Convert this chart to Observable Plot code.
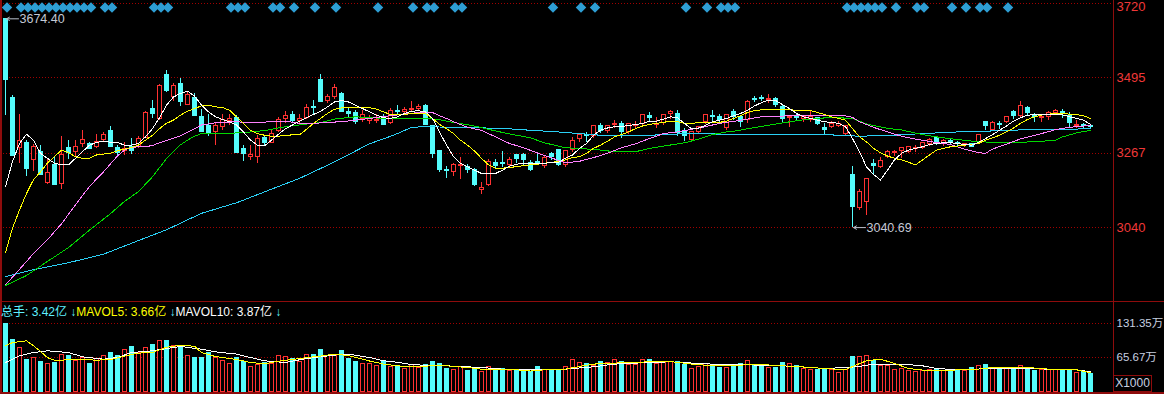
<!DOCTYPE html>
<html><head><meta charset="utf-8">
<script src="https://cdn.jsdelivr.net/npm/d3@7"></script>
<script src="https://cdn.jsdelivr.net/npm/@observablehq/plot@0.6"></script>
<style>
html,body{margin:0;padding:0;background:#000;}
#wrap{position:relative;width:1164px;height:394px;background:#000;overflow:hidden;}
#price{position:absolute;left:0;top:0;}
#vol{position:absolute;left:0;top:301px;}
.ln{position:absolute;background:#8e0c0c;}
#hdr{position:absolute;left:1px;top:304px;font-size:12px;font-family:"Liberation Sans","Noto Sans CJK SC",sans-serif;line-height:16px;white-space:nowrap;}
#x1000{position:absolute;left:1113px;top:375px;width:37px;height:15px;border:1px solid #8e0c0c;color:#c8d0e0;font-size:12px;font-family:"Liberation Sans",sans-serif;line-height:15px;text-align:center;}
</style>
</head><body>
<div id="wrap">
  <div id="price"></div>
  <div id="vol"></div>
  <div class="ln" style="left:0;top:0;width:2px;height:394px"></div>
  <div class="ln" style="left:1113px;top:0;width:1px;height:394px"></div>
  <div class="ln" style="left:0;top:301px;width:1164px;height:1px"></div>
  <div class="ln" style="left:0;top:392px;width:1164px;height:2px"></div>
  <div id="hdr"></div>
  <div id="x1000">X1000</div>
</div>
<script>
// ---------- data ----------
const open = [3674.4,3434,3283,3296,3246,3269,3177,3230,3172,3283,3269,3293,3294,3286,3306,3333,3282,3272,3285,3285,
3313,3402,3370,3505,3437,3476,3413,3434,3376,3348,3330,3345,3364,3374,3280,3255,3256,3312,3298,3333,
3370,3382,3363,3373,3406,3490,3424,3436,3447,3393,3388,3370,3364,3364,3372,3358,3396,3392,3397,3400,
3410,3348,3272,3216,3210,3228,3226,3215,3155,3170,3238,3238,3232,3262,3260,3238,3241,3227,3264,3276,
3232,3275,3310,3322,3318,3349,3334,3352,3355,3330,3349,3356,3378,3352,3358,3386,3385,3330,3308,3331,
3360,3380,3375,3342,3393,3377,3366,3432,3433,3427,3430,3407,3372,3377,3370,3366,3372,3342,3346,3350,
3326,3200,3100,3118,3233,3225,3256,3266,3273,3271,3278,3281,3293,3313,3298,3304,3297,3290,3293,3299,
3362,3336,3356,3360,3392,3380,3404,3380,3372,3377,3387,3391,3380,3349,3352,3349];
const high = [3674.4,3442,3385,3306,3293,3291,3246,3252,3318,3306,3306,3336,3298,3324,3330,3347,3290,3300,3312,3318,
3392,3427,3476,3516,3478,3493,3450,3447,3400,3385,3357,3384,3385,3380,3291,3291,3320,3320,3336,3375,
3392,3392,3385,3415,3427,3505,3445,3474,3450,3402,3395,3395,3382,3385,3385,3402,3410,3405,3424,3413,
3415,3351,3276,3225,3234,3253,3232,3220,3178,3246,3248,3271,3254,3264,3265,3244,3268,3260,3270,3278,
3275,3315,3326,3330,3350,3356,3352,3366,3362,3356,3362,3385,3390,3376,3384,3395,3395,3340,3331,3347,
3385,3395,3383,3385,3400,3382,3425,3440,3442,3444,3435,3410,3380,3384,3378,3392,3376,3357,3362,3362,
3352,3226,3155,3190,3246,3254,3275,3275,3282,3287,3290,3298,3310,3317,3308,3310,3302,3297,3296,3322,
3364,3362,3362,3379,3395,3422,3408,3387,3378,3392,3398,3398,3390,3365,3356,3352];
const low = [3382,3256,3234,3195,3210,3198,3172,3168,3155,3246,3254,3283,3278,3281,3298,3285,3256,3258,3262,3280,
3310,3372,3365,3450,3422,3407,3410,3378,3328,3316,3291,3336,3350,3265,3240,3245,3236,3290,3295,3328,
3357,3357,3355,3368,3385,3420,3418,3430,3390,3375,3355,3360,3354,3358,3350,3355,3385,3388,3390,3395,
3350,3250,3207,3190,3195,3186,3205,3166,3140,3164,3220,3222,3225,3235,3230,3210,3230,3220,3245,3226,
3222,3270,3300,3300,3310,3325,3325,3342,3310,3322,3340,3348,3360,3342,3352,3368,3318,3303,3300,3326,
3355,3362,3355,3335,3365,3345,3358,3420,3422,3417,3405,3360,3345,3365,3360,3360,3352,3320,3340,3343,
3318,3040.69,3092,3076,3198,3220,3250,3255,3250,3265,3268,3278,3288,3290,3286,3294,3286,3283,3283,3292,
3334,3332,3338,3356,3370,3372,3378,3360,3360,3366,3380,3372,3346,3340,3340,3340];
const close = [3489.78,3259,3302,3218,3285,3201,3206,3169,3262,3268,3286,3306,3280,3300,3322,3286,3266,3280,3272,3310,
3387,3384,3471,3455,3470,3422,3444,3380,3331,3324,3349,3368,3370,3267,3264,3260,3310,3296,3326,3366,
3379,3365,3369,3404,3403,3423,3436,3465,3392,3386,3361,3382,3370,3368,3352,3394,3393,3398,3400,3407,
3352,3263,3214,3212,3230,3231,3214,3170,3162,3241,3228,3235,3245,3249,3247,3214,3236,3253,3256,3230,
3272,3304,3322,3318,3348,3334,3349,3356,3330,3354,3353,3382,3374,3356,3382,3392,3328,3319,3330,3345,
3383,3376,3366,3382,3376,3362,3422,3428,3430,3431,3412,3370,3376,3374,3375,3376,3356,3338,3356,3356,
3350,3104,3150,3188,3229,3243,3270,3270,3281,3286,3282,3296,3306,3301,3302,3300,3293,3294,3286,3321,
3350,3357,3352,3377,3380,3410,3387,3376,3375,3390,3395,3388,3357,3353,3349,3345];
// volume, in 万 (x1000)
const volume = [131.35,100.4,84.4,61.8,65.1,57.9,53.5,54.7,70.9,69.5,59.9,66.2,53.5,63.1,68.2,74.7,68.2,81.1,86.9,75.9,
84.4,90.2,98.5,98.5,87.5,85.5,69.5,65.1,65.1,74.7,65.1,59.9,53.5,66.2,56.6,48.3,52.1,55.4,53.5,69.5,
67.6,63.1,56.6,71.4,70.9,81.1,69.5,69.5,79.2,64.3,57.9,53.5,53.5,50.2,57.9,48.3,48.3,44.4,51.6,46.9,
51.6,57.9,53.5,45.0,42.5,48.3,40.6,42.5,38.6,48.3,40.6,43.8,40.6,42.5,40.6,38.6,48.3,42.5,42.5,42.5,
48.3,61.8,55.4,53.5,48.9,57.9,55.4,61.8,56.6,52.1,52.1,61.8,61.8,53.5,57.9,58.4,56.6,52.1,45.0,48.3,
53.5,50.2,46.9,46.9,50.2,53.5,59.9,52.1,48.9,46.9,46.9,54.7,53.5,50.2,45.0,42.5,42.5,45.0,42.5,36.1,
42.5,67.6,67.6,69.5,59.9,50.2,48.9,42.5,45.0,40.6,38.6,40.6,42.5,43.8,40.6,40.6,40.6,40.6,46.9,50.2,
52.1,45.0,45.0,45.0,45.0,48.9,45.0,40.6,42.5,42.5,42.5,40.6,40.6,36.1,37.3,34.2];

const ma5 = [3165,3241,3296,3324,3306,3266,3251,3236,3231,3231,3251,3271,3291,3299,3303,3300,3299,3291,3291,3296,
3316,3341,3374,3412,3437,3448,3455,3440,3412,3392,3377,3369,3362,3352,3331,3306,3291,3289,3306,3324,
3341,3352,3364,3374,3384,3394,3407,3422,3427,3422,3412,3402,3392,3382,3374,3372,3377,3387,3394,3395,
3392,3372,3331,3291,3256,3236,3225,3215,3205,3205,3205,3215,3227,3233,3236,3236,3236,3236,3238,3239,
3251,3261,3281,3296,3321,3336,3343,3347,3347,3351,3353,3357,3364,3364,3370,3377,3374,3357,3341,3342,
3351,3362,3367,3372,3380,3387,3397,3410,3420,3427,3427,3414,3402,3387,3377,3372,3367,3362,3360,3357,
3347,3311,3271,3225,3202,3185,3215,3246,3266,3276,3281,3286,3293,3296,3298,3298,3296,3293,3291,3299,
3311,3323,3336,3349,3364,3374,3382,3383,3383,3383,3383,3383,3377,3372,3367,3354];
const ma10 = [2965,3039,3094,3144,3186,3210,3237,3256,3276,3268,3256,3251,3251,3261,3264,3266,3274,3279,3284,3291,
3306,3321,3341,3357,3367,3382,3394,3402,3410,3412,3407,3405,3397,3377,3357,3336,3326,3321,3318,3318,
3321,3322,3322,3339,3357,3372,3387,3400,3404,3405,3405,3404,3405,3400,3392,3384,3384,3384,3387,3387,
3387,3372,3354,3341,3326,3306,3291,3273,3251,3231,3221,3221,3224,3225,3229,3231,3233,3236,3239,3241,
3246,3253,3256,3266,3281,3291,3303,3316,3323,3331,3341,3349,3354,3357,3360,3364,3362,3357,3357,3359,
3360,3360,3360,3364,3372,3380,3390,3396,3398,3398,3398,3398,3398,3397,3397,3396,3390,3384,3377,3372,
3367,3341,3316,3301,3281,3268,3258,3251,3246,3239,3231,3246,3261,3276,3281,3286,3288,3291,3293,3296,
3306,3313,3321,3331,3343,3357,3369,3377,3382,3385,3387,3387,3385,3384,3380,3372];
const ma20 = [[0,2867],[2,2914],[4,2962],[6,3004],[8,3052],[10,3110],[11,3138],[12,3165],[13,3188],[14,3210],[15,3234],
[16,3258],[17,3276],[18,3284],[19,3286],[20,3286],[21,3290],[22,3298],[23,3305],[24,3312],[25,3319],[26,3330],[27,3341],
[28,3352],[30,3359],[33,3362],[35,3359],[38,3362],[40,3364],[42,3357],[44,3357],[46,3360],[48,3362],[50,3367],[52,3372],
[54,3378],[57,3385],[59,3390],[61,3390],[62,3380],[63,3372],[64,3362],[66,3345],[68,3336],[70,3316],[72,3296],[74,3283],
[76,3267],[78,3252],[80,3237],[82,3242],[84,3253],[86,3266],[88,3283],[90,3295],[92,3311],[94,3326],[96,3331],[98,3339],
[100,3347],[102,3357],[104,3363],[106,3370],[108,3377],[112,3380],[116,3381],[120,3380],[121,3375],[122,3362],[124,3345],
[126,3331],[128,3318],[130,3309],[133,3299],[135,3293],[137,3279],[139,3268],[140,3266],[141,3279],[143,3294],[145,3310],
[148,3326],[150,3338],[152,3345],[155,3351]];
const ma30 = [[0,2865],[3,2895],[6,2938],[9,2980],[12,3033],[15,3083],[17,3120],[19,3150],[21,3195],[23,3250],[24,3272],
[25,3292],[26,3306],[27,3318],[28,3326],[31,3326],[34,3329],[37,3335],[40,3347],[43,3355],[45,3359],[47,3370],[50,3377],
[52,3374],[55,3372],[58,3372],[60,3373],[62,3368],[64,3360],[67,3349],[70,3334],[72,3325],[75,3313],[77,3298],[80,3283],
[82,3281],[85,3276],[87,3271],[90,3271],[92,3281],[94,3288],[97,3298],[99,3309],[101,3323],[103,3331],[104,3333],[108,3348],
[113,3365],[116,3373],[119,3374],[121,3372],[123,3355],[126,3342],[128,3337],[131,3323],[133,3316],[136,3308],[139,3301],
[143,3299],[147,3301],[150,3306],[151,3316],[153,3328],[155,3336]];
const ma60 = [[0,2892],[4,2913],[9,2934],[14,2960],[18,2993],[23,3034],[28,3084],[33,3116],[37,3149],[42,3190],[47,3240],
[52,3295],[54,3310],[56,3326],[58,3345],[60,3347],[66,3344],[71,3342],[75,3336],[79,3331],[85,3321],[90,3321],[94,3322],
[97,3326],[104,3324],[112,3323],[118,3322],[122,3318],[127,3321],[131,3326],[137,3332],[141,3334],[146,3338],[150,3338],[155,3341]];
const mavol5 = [[0,88.8],[1,95.2],[3,98.5],[4,88.8],[5,78],[6,66],[7,61.2],[9,61.5],[11,62],[13,61.2],[15,62],[17,69],
[19,74.7],[21,76],[23,86],[25,90],[27,88],[28,75.9],[30,68],[33,62.5],[35,56.6],[37,54],[39,59],[42,64.3],[45,69],[47,72.8],
[49,70],[52,59.5],[54,53.5],[56,50.2],[58,48.3],[61,50.2],[63,50.2],[66,46.9],[68,43.8],[71,42.5],[73,42.5],[75,40],[77,42.5],
[80,43.8],[82,48.9],[84,53.5],[87,55.4],[89,56.6],[92,57.9],[95,58.5],[98,53.5],[101,50.2],[104,50.2],[107,53.5],[111,50.2],
[113,48.9],[115,46.9],[120,42.5],[121,48.9],[123,59.9],[125,63.1],[127,54.7],[129,45],[132,40.6],[134,40.6],[136,42.5],
[139,43.8],[141,46.9],[146,46.9],[149,43.8],[153,42.5],[155,36.6]];
const mavol10 = [[0,56.6],[2,69.5],[4,75.9],[6,79.2],[9,75.9],[11,67.6],[14,63.1],[16,66.2],[18,75.9],[21,79.2],[23,83.6],
[25,87.5],[28,82.4],[30,77.2],[33,72.8],[35,66.2],[37,59.9],[40,56.6],[42,61.8],[44,66.2],[47,70.9],[49,72.8],[52,66.2],
[54,60],[56,57],[58,52.5],[60,51.3],[63,50.2],[68,46.9],[71,43.8],[75,42.5],[79,42.5],[81,45],[84,48.3],[87,53.5],[92,56.6],
[95,57.9],[99,54.7],[101,53.5],[106,52.1],[111,50.2],[113,48.9],[117,45],[120,46.9],[122,48.9],[124,53.5],[128,53.5],
[131,50.2],[133,45],[136,42.5],[141,45],[146,45],[149,43.8],[153,42.5],[155,38.7]];
const signals = [0,2,3,4,5,6,7,8,9,10,11,12,14,15,21,22,23,32,33,34,38,39,41,44,47,53,58,60,61,64,65,78,82,84,97,100,102,
103,104,120,121,122,123,124,125,127,130,131,135,137,139,140,143];
const extremes = [{i:0, p:3674.40}, {i:121, p:3040.69}];
const priceTicks = [3040, 3267, 3495, 3720];
const volTicks = [65.67, 131.35];

// ---------- styles ----------
const RED = "#ff3232", CYAN = "#54fcfc", GRID = "#a00000";
const FONT = "'Liberation Sans','Noto Sans CJK SC',sans-serif";
const candles = close.map((c, i) => ({i, o: open[i], h: high[i], l: low[i], c, v: volume[i], up: c >= open[i]}));
const xScale = {type: "linear", domain: [-5/7, 1108/7], axis: null};
const col = d => d.up ? RED : CYAN;
const topTick = priceTicks[priceTicks.length - 1];

const price = Plot.plot({
  width: 1164, height: 301, marginLeft: 0, marginRight: 51, marginTop: 0, marginBottom: 0,
  style: {background: "transparent", fontFamily: FONT},
  x: xScale,
  y: {domain: [2816.3, 3730], axis: null, label: null},
  marks: [
    Plot.ruleY(priceTicks, {stroke: GRID, strokeDasharray: "1 2", shapeRendering: "crispEdges"}),
    Plot.axisY(priceTicks.filter(t => t !== topTick), {anchor: "right", tickSize: 0, tickPadding: 3, fill: "#f03838", fontSize: 13,
      tickFormat: d => String(d), label: null}),
    Plot.axisY([topTick], {anchor: "right", tickSize: 0, tickPadding: 3, fill: "#f03838", fontSize: 13, dy: 3,
      tickFormat: d => String(d), label: null}),
    Plot.dot(signals, {x: d => d, frameAnchor: "top", dy: 7, dx: 1.5, symbol: "square", rotate: 45, r: 4.2,
      fill: "#2e9ed4", stroke: "none"}),
    Plot.ruleX(candles, {x: "i", y1: "l", y2: "h", stroke: col, shapeRendering: "crispEdges"}),
    Plot.rect(candles, {x1: d => d.i - 2/7, x2: d => d.i + 2/7, y1: "o", y2: "c",
      fill: d => d.up ? "#000" : CYAN, stroke: col, shapeRendering: "crispEdges"}),
    Plot.line(ma60, {x: d => d[0], y: d => d[1], stroke: "#2ad0f5", strokeWidth: 1, shapeRendering: "crispEdges"}),
    Plot.line(ma30, {x: d => d[0], y: d => d[1], stroke: "#00d800", strokeWidth: 1, shapeRendering: "crispEdges"}),
    Plot.line(ma20, {x: d => d[0], y: d => d[1], stroke: "#ff80ff", strokeWidth: 1, shapeRendering: "crispEdges"}),
    Plot.line(ma10, {x: (d, i) => i, y: d => d, stroke: "#ffff00", strokeWidth: 1, shapeRendering: "crispEdges"}),
    Plot.line(ma5, {x: (d, i) => i, y: d => d, stroke: "#ffffff", strokeWidth: 1, shapeRendering: "crispEdges"}),
    Plot.arrow(extremes, {x1: d => d.i + 1.86, x2: d => d.i + 0.15, y1: "p", y2: "p", stroke: "#b8c0cc",
      headLength: 5, strokeWidth: 1}),
    Plot.text(extremes, {x: d => d.i + 2, y: "p", text: d => d.p.toFixed(2), textAnchor: "start",
      fill: "#c3c9d6", fontSize: 12.5})
  ]
});
document.getElementById("price").appendChild(price);

const vol = Plot.plot({
  width: 1164, height: 93, marginLeft: 0, marginRight: 51, marginTop: 0, marginBottom: 0,
  style: {background: "transparent", fontFamily: FONT},
  x: xScale,
  y: {domain: [-5.2, 174.4], axis: null, label: null},
  marks: [
    Plot.ruleY(volTicks, {stroke: GRID, strokeDasharray: "1 2", shapeRendering: "crispEdges"}),
    Plot.axisY(volTicks, {anchor: "right", tickSize: 0, tickPadding: 3, fill: "#c8d0e0", fontSize: 11.5,
      tickFormat: d => d.toFixed(2) + "万", label: null}),
    Plot.rect(candles, {x1: d => d.i - 2/7, x2: d => d.i + 2/7, y1: d => 0, y2: "v",
      fill: d => d.up ? "#000" : CYAN, stroke: col, shapeRendering: "crispEdges"}),
    Plot.line(mavol10, {x: d => d[0], y: d => d[1], stroke: "#ffffff", strokeWidth: 1, shapeRendering: "crispEdges"}),
    Plot.line(mavol5, {x: d => d[0], y: d => d[1], stroke: "#ffff00", strokeWidth: 1, shapeRendering: "crispEdges"})
  ]
});
document.getElementById("vol").appendChild(vol);

// header legend
const yi = v => (v / 10).toFixed(2) + "亿";
const last = a => a[a.length - 1];
document.getElementById("hdr").innerHTML =
  `<span style="color:#5ff0ff">总手: ${yi(last(volume))} ↓</span>` +
  `<span style="color:#ffff00">MAVOL5: ${yi(last(mavol5)[1])} </span><span style="color:#5ff0ff">↓</span>` +
  `<span style="color:#ffffff">MAVOL10: ${yi(last(mavol10)[1])} </span><span style="color:#5ff0ff">↓</span>`;
</script>
</body></html>
